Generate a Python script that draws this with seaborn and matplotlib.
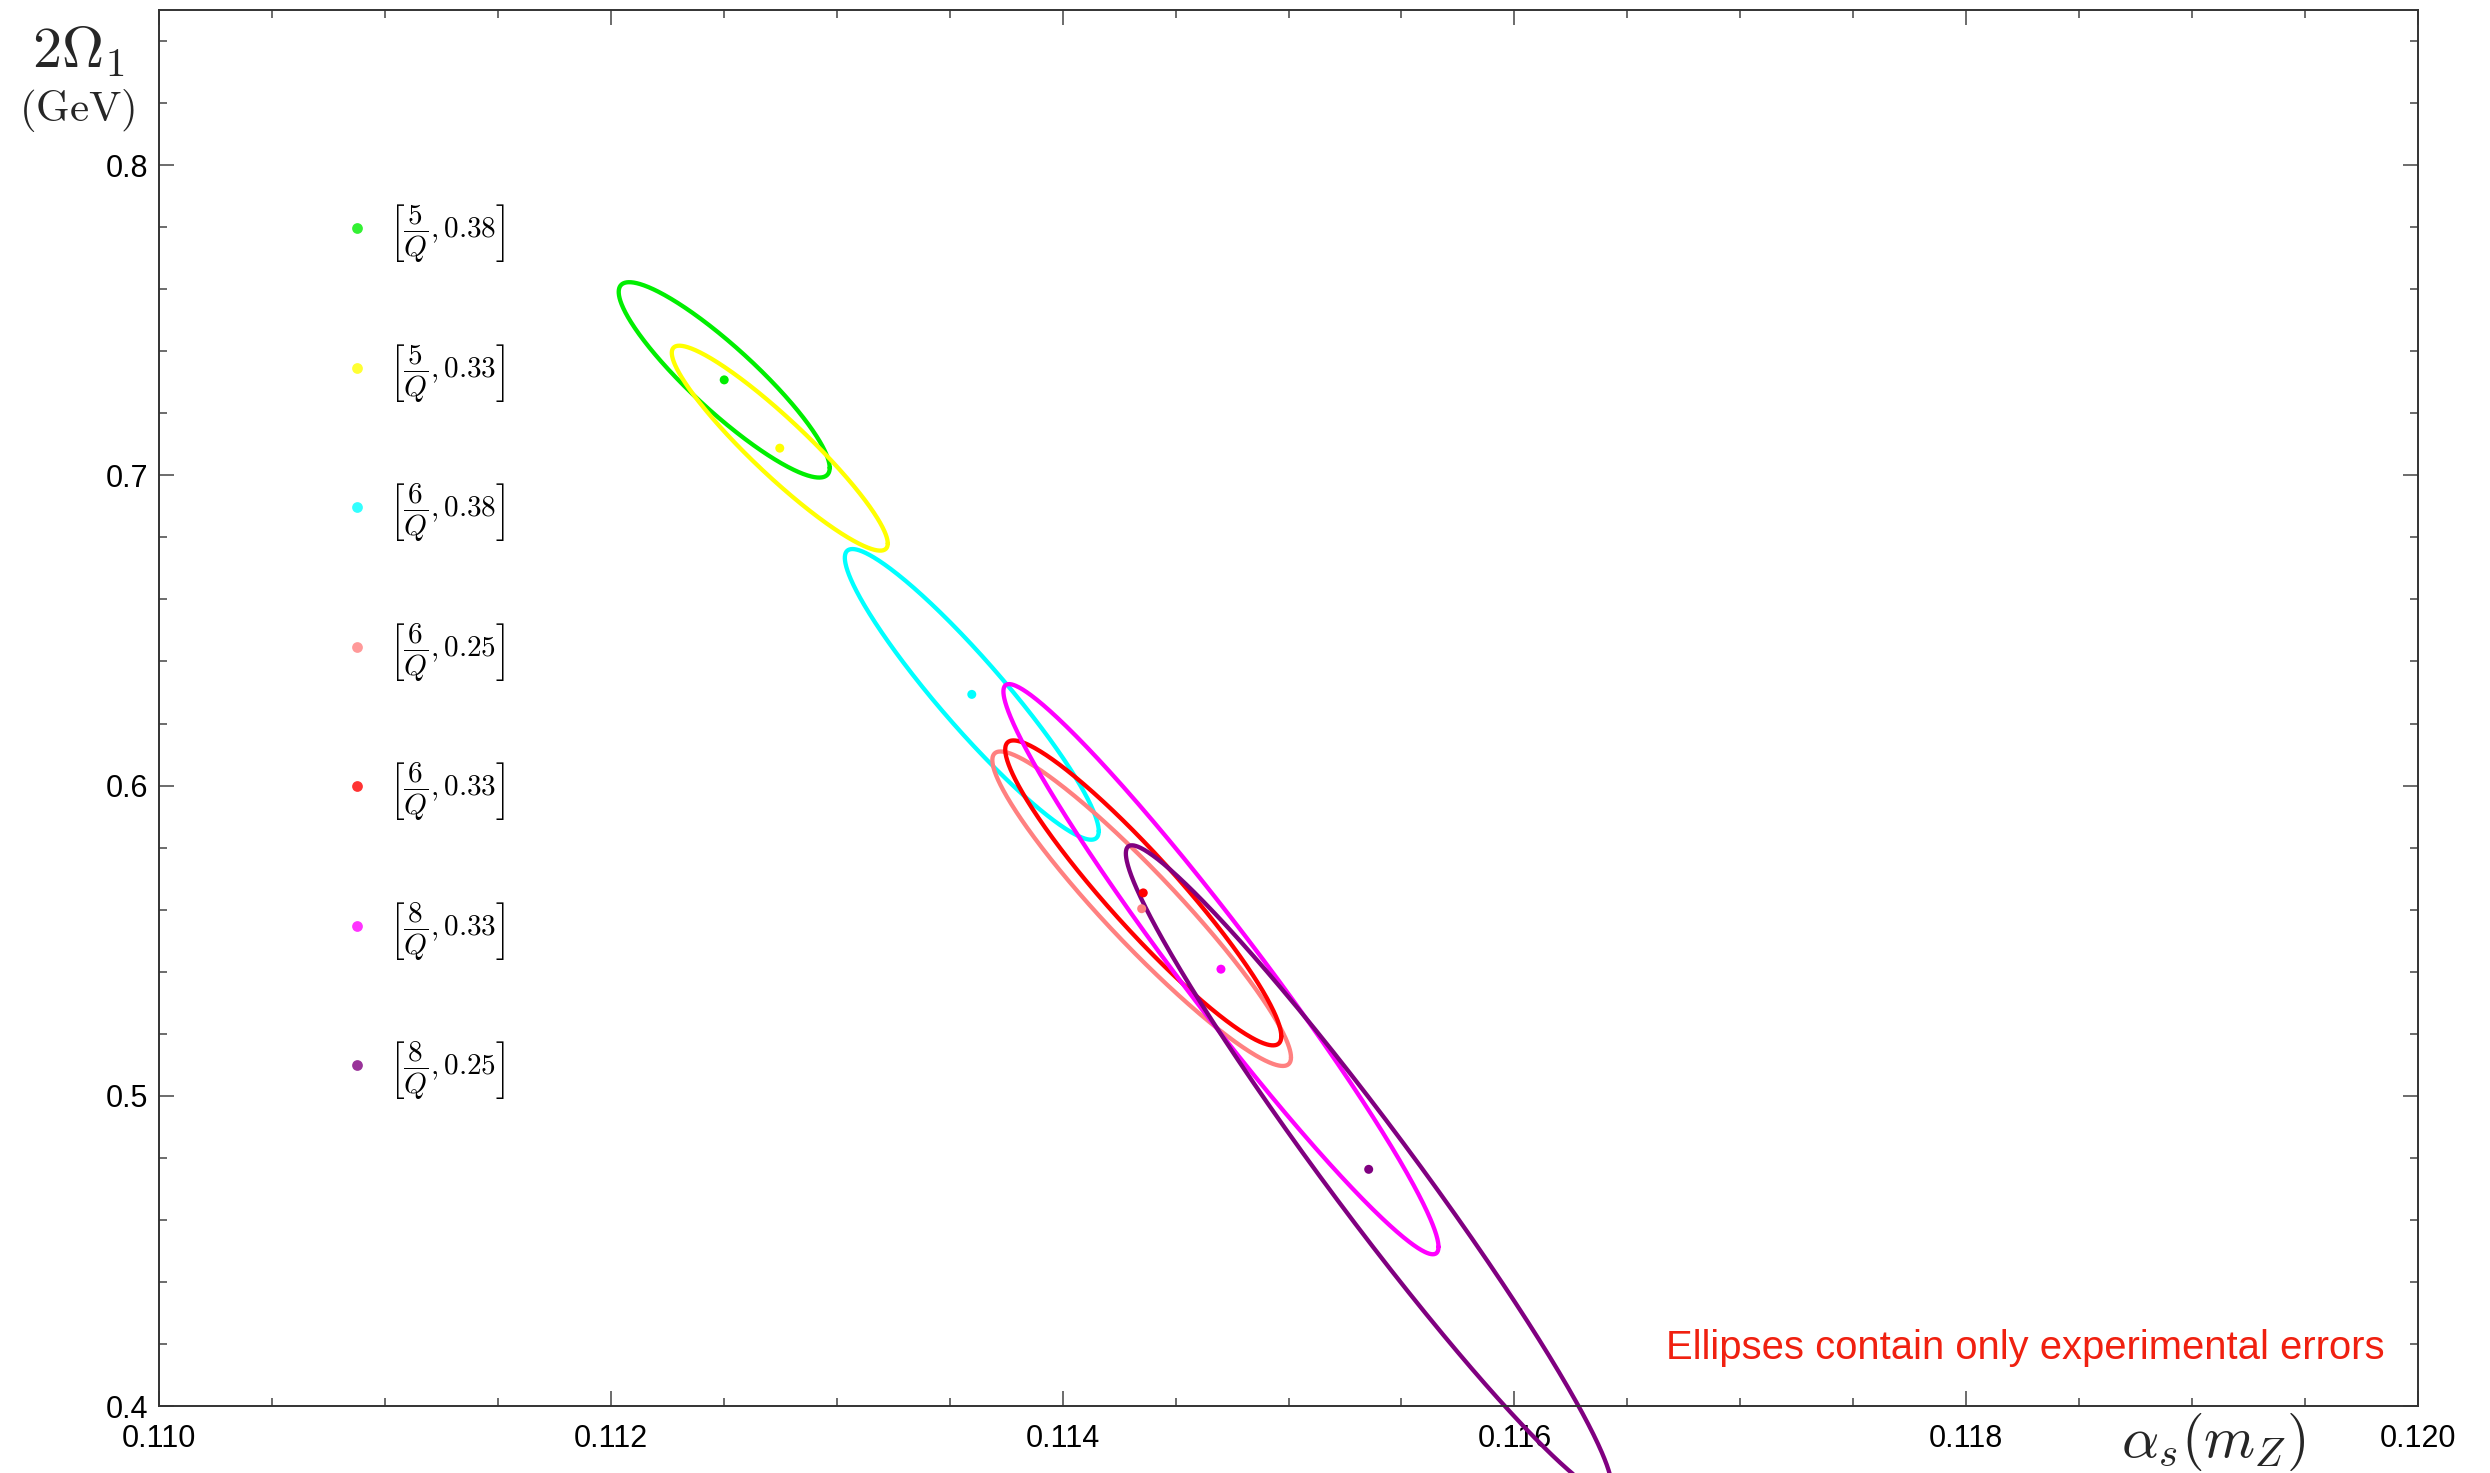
import numpy as np
import matplotlib
matplotlib.use("Agg")
import matplotlib.pyplot as plt
from matplotlib.ticker import MultipleLocator, FixedLocator, FixedFormatter
import seaborn as sns
import pandas as pd

# ---------------- data ----------------
fits = ["5/Q,0.38", "5/Q,0.33", "6/Q,0.38", "6/Q,0.25", "6/Q,0.33", "8/Q,0.33", "8/Q,0.25"]
legend_labels = [r"$\left[\dfrac{5}{Q},0.38\right]$",
                 r"$\left[\dfrac{5}{Q},0.33\right]$",
                 r"$\left[\dfrac{6}{Q},0.38\right]$",
                 r"$\left[\dfrac{6}{Q},0.25\right]$",
                 r"$\left[\dfrac{6}{Q},0.33\right]$",
                 r"$\left[\dfrac{8}{Q},0.33\right]$",
                 r"$\left[\dfrac{8}{Q},0.25\right]$"]
colors = ["#00EE00", "#FFFF00", "#00FFFF", "#FF8080", "#FF0000", "#FF00FF", "#800080"]

alpha_c   = [0.112502, 0.112748, 0.113598, 0.114350, 0.114357, 0.114701, 0.115355]
omega_c   = [0.73077, 0.70876, 0.62939, 0.56030, 0.56540, 0.54081, 0.47629]
alpha_err = [0.000467, 0.000478, 0.000562, 0.000661, 0.000611, 0.000963, 0.001075]
omega_err = [0.03149, 0.03303, 0.04685, 0.05069, 0.04915, 0.09190, 0.10445]
corr      = [-0.90, -0.93, -0.94, -0.945, -0.94, -0.974, -0.975]

x_ticks = [0.110, 0.112, 0.114, 0.116, 0.118, 0.120]
x_tick_labels = ["0.110", "0.112", "0.114", "0.116", "0.118", "0.120"]
y_ticks = [0.4, 0.5, 0.6, 0.7, 0.8]
y_tick_labels = ["0.4", "0.5", "0.6", "0.7", "0.8"]
note = "Ellipses contain only experimental errors"

# ---------------- build ellipse table ----------------
t = np.linspace(0, 2 * np.pi, 600)
rows = []
for f, cx, cy, sx, sy, r in zip(fits, alpha_c, omega_c, alpha_err, omega_err, corr):
    ex = cx + sx * np.cos(t)
    ey = cy + sy * (r * np.cos(t) + np.sqrt(1 - r * r) * np.sin(t))
    rows.append(pd.DataFrame({"alpha": ex, "omega": ey, "fit": f}))
ell = pd.concat(rows, ignore_index=True)
centers = pd.DataFrame({"alpha": alpha_c, "omega": omega_c, "fit": fits})
palette = dict(zip(fits, colors))

# ---------------- style ----------------
sns.set_theme(style="ticks")
plt.rcParams["font.family"] = ["Liberation Sans", "DejaVu Sans"]
plt.rcParams["mathtext.fontset"] = "cm"

W, H = 2490, 1473
fig = plt.figure(figsize=(W / 100, H / 100), dpi=100)
ax = fig.add_axes([159 / W, 1 - 1406 / H, 2259 / W, 1396 / H])

sns.lineplot(data=ell, x="alpha", y="omega", hue="fit", hue_order=fits, palette=palette,
             sort=False, estimator=None, units="fit", lw=3.1, legend=False, ax=ax,
             clip_on=False, zorder=2)
sns.scatterplot(data=centers, x="alpha", y="omega", hue="fit", hue_order=fits,
                palette=palette, s=42, linewidth=0, legend=False, ax=ax, zorder=3)

ax.set_xlim(0.110, 0.120)
ax.set_ylim(0.4, 0.85)
ax.set_xlabel("")
ax.set_ylabel("")

ax.xaxis.set_major_locator(FixedLocator(x_ticks))
ax.xaxis.set_major_formatter(FixedFormatter(x_tick_labels))
ax.yaxis.set_major_locator(FixedLocator(y_ticks))
ax.yaxis.set_major_formatter(FixedFormatter(y_tick_labels))
ax.xaxis.set_minor_locator(MultipleLocator(0.0005))
ax.yaxis.set_minor_locator(MultipleLocator(0.02))

tc = "#444444"
ax.tick_params(which="both", direction="in", top=True, right=True, color=tc, width=1.1)
ax.tick_params(which="major", length=10.5, labelsize=22, labelcolor="black")
ax.tick_params(which="minor", length=6)
ax.tick_params(axis="x", which="major", pad=13)
ax.tick_params(axis="y", which="major", pad=8)
for s in ax.spines.values():
    s.set_visible(True)
    s.set_color("#333333")
    s.set_linewidth(1.4)

# legend (manual, in axes coordinates)
row0 = (1406 - 228) / 1396
step = 139.5 / 1396
for i, (lab, c) in enumerate(zip(legend_labels, colors)):
    yy = row0 - i * step
    ax.scatter([(357 - 159) / 2259], [yy], s=60, color=c, alpha=0.8, linewidth=0,
               transform=ax.transAxes, clip_on=False, zorder=4)
    ax.text((389 - 159) / 2259, yy - 0.0045, lab, transform=ax.transAxes,
            fontsize=21, ha="left", va="center", color="black")

ax.text((2385 - 159) / 2259, (1406 - 1348) / 1396, note, transform=ax.transAxes,
        fontsize=28.8, color="#F02010", ha="right", va="center")

# axis labels (Mathematica-style placement)
fig.text(79 / W, 1 - 52 / H, r"$2\Omega_1$", fontsize=42, ha="center", va="center")
fig.text(77 / W, 1 - 111 / H, r"$(\mathrm{GeV})$", fontsize=31, ha="center", va="center")
fig.text(2213 / W, 1 - 1442 / H, r"$\alpha_s(m_Z)$", fontsize=42, ha="center", va="center")

fig.savefig("out.png", dpi=100)
